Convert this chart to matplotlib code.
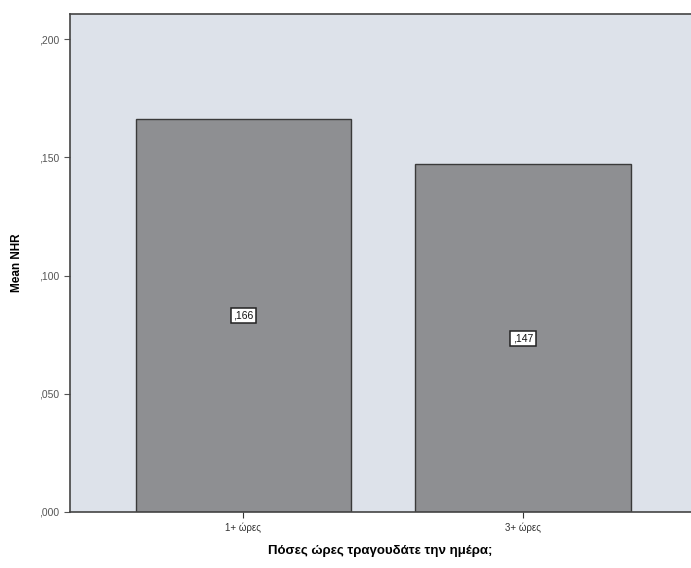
import matplotlib
matplotlib.use("Agg")
import matplotlib.pyplot as plt
from matplotlib.ticker import FuncFormatter

plt.rcParams["font.family"] = ["Liberation Sans", "DejaVu Sans"]

categories = ["1+ ώρες", "3+ ώρες"]
means = [0.166, 0.147]
yticks = [0.0, 0.05, 0.10, 0.15, 0.20]


def spss(v):
    # SPSS-style decimal comma with no leading zero: 0.166 -> ,166
    return f"{v:.3f}".replace("0.", ",", 1)


fig = plt.figure(figsize=(6.91, 5.68), dpi=100)
ax = fig.add_axes([0.1013, 0.0986, 0.8987, 0.8768])
ax.set_facecolor("#dde2ea")

x = range(len(categories))
bars = ax.bar(x, means, width=0.77, color="#8e8f92", edgecolor="#3a3a3a", linewidth=1.0)
for b, v in zip(bars, means):
    ax.text(b.get_x() + b.get_width() / 2, v / 2, spss(v),
            ha="center", va="center", fontsize=7.5, color="#111111",
            bbox=dict(boxstyle="square,pad=0.25", fc="white", ec="#222222", lw=1.1))

ax.set_xlim(-0.62, 1.6)
ax.set_ylim(0, 0.2106)
ax.set_xticks(list(x))
ax.set_xticklabels(categories, fontsize=7, color="#333333")
ax.set_yticks(yticks)
ax.yaxis.set_major_formatter(FuncFormatter(lambda v, p: spss(v)))
ax.tick_params(axis="y", labelsize=7.5, colors="#555555", length=4)
ax.tick_params(axis="x", length=4, colors="#333333")
for s in ["left", "top", "bottom"]:
    ax.spines[s].set_color("#444444")
    ax.spines[s].set_linewidth(1.2)
ax.spines["right"].set_visible(False)

ax.set_ylabel("Mean NHR", fontsize=8.5, fontweight="bold", labelpad=12)
ax.set_xlabel("Πόσες ώρες τραγουδάτε την ημέρα;", fontsize=9.5, fontweight="bold", labelpad=9)

fig.savefig("out.png", dpi=100)
